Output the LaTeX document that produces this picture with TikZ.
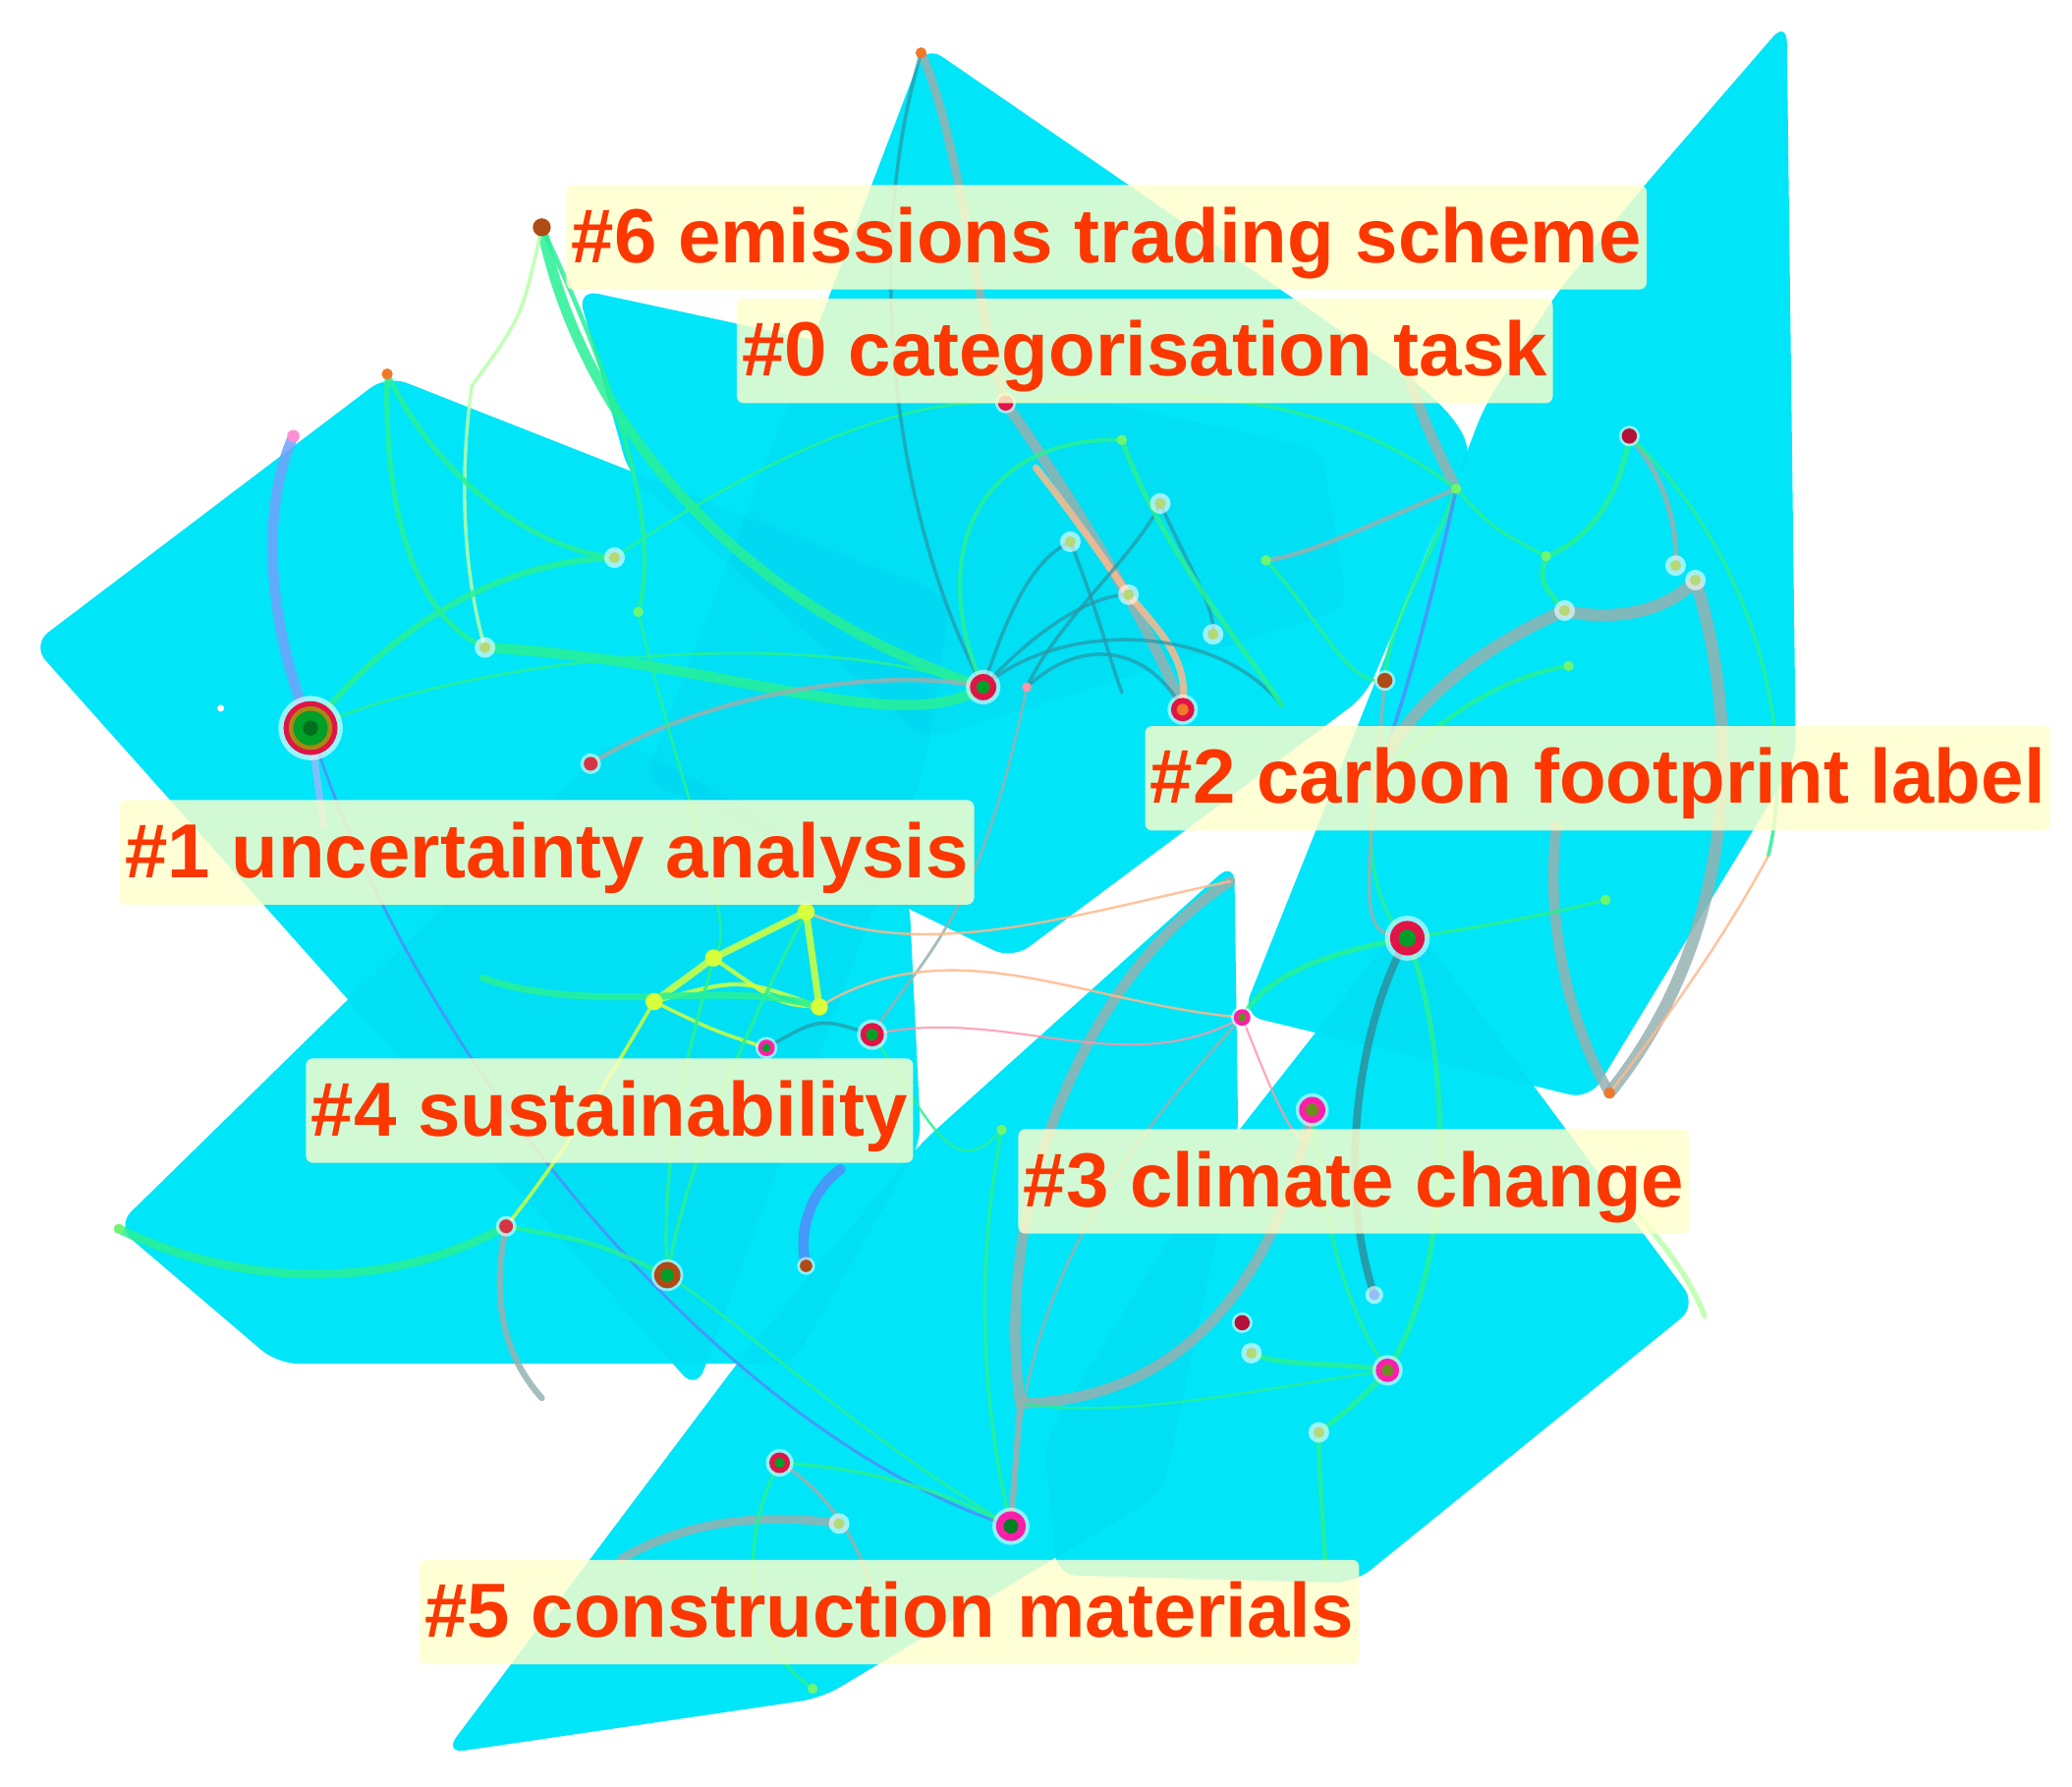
\documentclass[tikz,border=0pt]{standalone}
\usepackage{fontspec}
\setmainfont{Liberation Sans}
\definecolor{cyanA}{RGB}{0,236,250}
\definecolor{cyanD}{RGB}{0,150,215}
\definecolor{lblred}{RGB}{252,55,0}
\definecolor{lblbg}{RGB}{255,255,205}
\definecolor{lgreen}{RGB}{40,240,150}
\definecolor{pgreen}{RGB}{185,255,170}
\definecolor{lgrey}{RGB}{150,178,178}
\definecolor{teal2}{RGB}{40,150,165}
\definecolor{lblue}{RGB}{80,140,250}
\definecolor{yel}{RGB}{215,255,60}
\definecolor{orng}{RGB}{255,185,140}
\definecolor{pinkl}{RGB}{255,150,170}
\definecolor{ringred}{RGB}{225,20,70}
\definecolor{ringmag}{RGB}{255,30,170}
\definecolor{coregreen}{RGB}{0,160,40}
\definecolor{coreolive}{RGB}{110,140,30}
\definecolor{brownn}{RGB}{175,75,20}
\definecolor{orangen}{RGB}{240,120,40}
\tikzset{
  region/.style={fill=cyanA, rounded corners=6pt},
  regshade/.style={fill=cyanD, fill opacity=0.07, rounded corners=6pt},
  lbl/.style={fill=lblbg, fill opacity=0.82, text opacity=1, text=lblred,
    font=\fontsize{22.2}{26}\selectfont\bfseries, rounded corners=2pt,
    inner xsep=1.5pt, inner ysep=0pt, text height=22.4pt, text depth=7.85pt, anchor=west},
  lk/.style={line cap=round, draw opacity=0.85, line width=1pt},
  lkg/.style={lk, draw=lgreen},
  lkp/.style={lk, draw=pgreen},
  lkgr/.style={lk, draw=lgrey},
  lkt/.style={lk, draw=teal2, draw opacity=0.7},
  lkb/.style={lk, draw=lblue},
  lky/.style={lk, draw=yel},
  lko/.style={lk, draw=orng, line width=0.7pt},
  lkpk/.style={lk, draw=pinkl, line width=0.6pt}
}
\newcommand\ringnode[5]{%
  \fill[white,fill opacity=0.55] (#1) circle[radius=#2pt];
  \fill[#3] (#1) circle[radius=#4pt];
  \fill[#5] (#1) circle[radius=#4pt*0.5];}
\begin{document}
\begin{tikzpicture}[x=0.01345cm, y=-0.01345cm]
\useasboundingbox (0,0) rectangle (1568,1352);
\fill[white] (0,0) rectangle (1568,1352);

% ---------- cluster regions ----------
\def\rOne{(293,284) -- (720,452) -- (700,580) -- (527,1052) -- (24,488) -- cycle}
\def\rFour{(88,928) -- (466,558) -- (688,678) -- (697,865) -- (600,1032) -- (210,1032) -- cycle}
\def\rFive{(336,1327) -- (622,1285) -- (880,1130) -- (937,860) -- (934,652) -- (697,865) -- (560,1029) -- cycle}
\def\rThree{(1065,693) -- (1284,988) -- (1025,1198) -- (800,1192) -- (790,1090) -- (930,865) -- cycle}
\def\rTwo{(1243,142) -- (1352,16) -- (1359,575) -- (1203,832) -- (940,768) -- (1103,360) -- (1124,306) -- (1178,222) -- cycle}
\def\rZero{(700,34) -- (1040,268) .. controls (1100,308) and (1115,335) .. (1103,362) -- (1034,526) -- (766,726) -- (488,590) -- cycle}
\def\rSix{(437,219) -- (1000,340) -- (1020,460) -- (700,560) -- (476,359) -- cycle}
\foreach \r in {\rOne,\rFour,\rFive,\rThree,\rTwo,\rZero,\rSix}{\path[region] \r;}
\foreach \r in {\rOne,\rFour,\rFive,\rThree,\rTwo,\rZero,\rSix}{\path[regshade] \r;}

% ---------- node positions ----------
\coordinate (c6) at (410,172);
\coordinate (c6p) at (357,292);
\coordinate (cT) at (697,40);
\coordinate (c1t) at (293,283);
\coordinate (c1u) at (222,330);
\coordinate (cBig) at (235,551);
\coordinate (cA) at (465,422);
\coordinate (cB) at (367,490);
\coordinate (cC) at (483,463);
\coordinate (cD) at (447,578);
\coordinate (cE) at (167,536);
\coordinate (cM) at (744,520);
\coordinate (cN) at (777,520);
\coordinate (cO) at (895,537);
\coordinate (cP) at (761,305);
\coordinate (c0a) at (784,354);
\coordinate (c0b) at (810,410);
\coordinate (c0c) at (854,450);
\coordinate (c0d) at (878,381);
\coordinate (c0e) at (918,480);
\coordinate (c0f) at (849,524);
\coordinate (c0g) at (970,534);
\coordinate (c0h) at (849,333);
\coordinate (c0i) at (958,424);
\coordinate (c0v) at (1062,272);
\coordinate (cQ) at (1102,370);
\coordinate (cR) at (1048,515);
\coordinate (cS) at (1233,330);
\coordinate (cS2) at (1268,428);
\coordinate (cS3) at (1283,439);
\coordinate (cS4) at (1184,462);
\coordinate (cS5) at (1170,421);
\coordinate (cS6) at (1187,504);
\coordinate (cS7) at (1215,681);
\coordinate (cS8) at (1218,827);
\coordinate (c2e) at (1040,592);
\coordinate (c2f) at (1178,625);
\coordinate (c2r) at (1338,648);
\coordinate (c3) at (1065,710);
\coordinate (c3a) at (940,770);
\coordinate (c3b) at (993,840);
\coordinate (c3c) at (940,1001);
\coordinate (c3d) at (1050,1037);
\coordinate (c3e) at (947,1024);
\coordinate (c3f) at (998,1084);
\coordinate (c3g) at (1040,980);
\coordinate (c3x) at (1003,1185);
\coordinate (c3r1) at (1226,905);
\coordinate (c3r2) at (1290,996);
\coordinate (c4a) at (540,725);
\coordinate (c4b) at (610,690);
\coordinate (c4c) at (495,758);
\coordinate (c4d) at (620,762);
\coordinate (c4e) at (580,793);
\coordinate (c4f) at (660,783);
\coordinate (c4g) at (505,965);
\coordinate (c4h) at (383,928);
\coordinate (c4i) at (610,958);
\coordinate (c4j) at (90,930);
\coordinate (c4k) at (410,1058);
\coordinate (c4l) at (636,885);
\coordinate (c4m) at (365,740);
\coordinate (c5a) at (765,1155);
\coordinate (c5b) at (590,1107);
\coordinate (c5c) at (635,1153);
\coordinate (c5d) at (772,1062);
\coordinate (c5e) at (758,855);
\coordinate (c5f) at (615,1278);
\coordinate (c5g) at (470,1180);
\coordinate (c5h) at (665,1232);
\coordinate (c5t) at (931,667);

% ---------- links ----------
% #6 / #1
\draw[lkg, line width=3pt] (c6) .. controls (440,320) and (560,460) .. (cM);
\draw[lkg, line width=1.3pt] (c6) .. controls (470,300) and (500,400) .. (cC);
\draw[lkp] (c6) .. controls (395,240) .. (c6p);
\draw[lkp] (c6p) .. controls (345,380) and (355,450) .. (cB);
\draw[lkg, line width=1.5pt] (c1t) .. controls (290,400) and (320,470) .. (cB);
\draw[lkg, line width=1.5pt] (c1t) .. controls (330,360) and (400,415) .. (cA);
\draw[lkg, line width=1.8pt] (cBig) .. controls (300,470) and (380,425) .. (cA);
\draw[lkb, line width=3pt, draw=lblue!80!white] (cBig) .. controls (205,480) and (195,390) .. (c1u);
\draw[lkg, line width=3pt] (cB) .. controls (550,500) and (680,560) .. (cM);
\draw[lkg, line width=0.8pt] (cBig) .. controls (350,500) and (600,470) .. (cM);
\draw[lkgr, line width=1.3pt] (cD) .. controls (540,520) and (680,505) .. (cM);
\draw[lkb, line width=0.8pt] (cBig) .. controls (320,820) and (560,1090) .. (c5a);
\draw[lkb, line width=2pt, draw=lblue!60!white] (cBig) .. controls (240,590) .. (245,625);
\draw[lkg, line width=0.8pt] (cC) .. controls (520,620) and (560,700) .. (c4a);
\draw[lkg, line width=0.8pt] (cA) .. controls (600,330) and (700,300) .. (cP);
% #0
\draw[lkgr, line width=2.5pt] (cT) .. controls (725,100) and (740,240) .. (cP);
\draw[lkt, line width=1pt] (cT) .. controls (650,200) and (680,400) .. (cM);
\draw[lkgr, line width=3pt] (cP) .. controls (800,360) and (870,470) .. (cO);
\draw[lko, line width=2pt] (c0a) .. controls (820,400) and (840,430) .. (c0c);
\draw[lko, line width=2pt] (c0c) .. controls (880,480) and (900,500) .. (cO);
\draw[lkt] (cM) .. controls (770,440) and (790,420) .. (c0b);
\draw[lkt] (cM) .. controls (790,470) and (830,450) .. (c0c);
\draw[lkt] (cM) .. controls (800,470) and (920,470) .. (c0g);
\draw[lkt] (cN) .. controls (820,480) and (870,490) .. (cO);
\draw[lkt] (cN) .. controls (800,470) and (860,420) .. (c0d);
\draw[lkt] (c0b) .. controls (830,460) and (840,500) .. (c0f);
\draw[lkt] (c0d) .. controls (900,430) and (920,460) .. (c0e);
\draw[lkg, line width=1.5pt] (c0h) .. controls (880,420) and (950,500) .. (c0g);
\draw[lkg, line width=1.2pt] (cM) .. controls (700,420) and (740,330) .. (c0h);
\draw[lkgr, line width=3pt] (c0v) .. controls (1078,320) .. (cQ);
\draw[lkgr, line width=1.3pt] (cQ) .. controls (1030,400) and (990,420) .. (c0i);
\draw[lkg, line width=1.2pt] (cQ) .. controls (1080,430) and (1050,470) .. (cR);
\draw[lkb, line width=1pt] (cQ) .. controls (1080,470) and (1060,540) .. (c2e);
\draw[lkg] (cQ) .. controls (1130,400) .. (cS5);
\draw[lkg] (cP) .. controls (900,290) and (1010,300) .. (cQ);
\draw[lkg] (c0i) .. controls (1000,470) and (1020,520) .. (cR);
% #2
\draw[lkg, line width=1.5pt] (cS) .. controls (1225,380) and (1200,410) .. (cS5);
\draw[lkg, line width=1.5pt] (cS5) .. controls (1165,440) .. (cS4);
\draw[lkgr, line width=1.5pt] (cS) .. controls (1260,360) and (1270,400) .. (cS2);
\draw[lkgr, line width=3.5pt] (cS4) .. controls (1215,470) and (1260,465) .. (cS3);
\draw[lkgr, line width=3.5pt] (cS3) .. controls (1315,540) and (1320,700) .. (cS8);
\draw[lkgr, line width=3.5pt] (cS4) .. controls (1110,495) and (1060,540) .. (c2e);
\draw[lkgr, line width=3pt] (c2f) .. controls (1168,700) and (1190,780) .. (cS8);
\draw[lkg] (cS) .. controls (1330,420) and (1360,560) .. (c2r);
\draw[lkg, line width=1.3pt] (cS6) .. controls (1120,515) and (1075,560) .. (c2e);
\draw[lkg] (c3) .. controls (1130,700) and (1180,690) .. (cS7);
\draw[lko] (cS8) .. controls (1270,760) and (1310,700) .. (c2r);
\draw[lkg] (c2e) .. controls (1030,660) and (1050,700) .. (c3);
% #3
\draw[lkt, line width=2.2pt, draw opacity=0.9] (c3) .. controls (1030,770) and (1010,890) .. (c3g);
\draw[lkg, line width=1.5pt] (c3) .. controls (1100,800) and (1100,960) .. (c3d);
\draw[lkg, line width=1.5pt] (c3) .. controls (1010,720) and (960,735) .. (c3a);
\draw[lkgr] (c3) .. controls (1030,705) .. (cR);
\draw[lkg, line width=1.5pt] (c3d) .. controls (1010,1030) and (970,1035) .. (c3e);
\draw[lkg, line width=1.5pt] (c3d) .. controls (1030,1060) and (1010,1075) .. (c3f);
\draw[lkg, line width=1.3pt] (c3f) .. controls (998,1120) and (1002,1160) .. (c3x);
\draw[lkgr, line width=3pt] (c5d) .. controls (880,1060) and (960,990) .. (c3b);
\draw[lkgr, line width=3pt] (c5d) .. controls (750,900) and (830,730) .. (c5t);
\draw[lkg] (c3b) .. controls (1000,900) and (1010,980) .. (c3d);
\draw[lkg, line width=0.7pt] (c5d) .. controls (850,1075) and (960,1050) .. (c3d);
\draw[lkpk] (c3a) .. controls (960,820) and (990,900) .. (c3b);
\draw[lkp, line width=1.5pt] (c3r1) .. controls (1260,940) and (1280,970) .. (c3r2);
% #5
\draw[lkgr, line width=1.8pt] (c5a) -- (c5d);
\draw[lkg] (c5a) .. controls (740,1050) and (740,950) .. (c5e);
\draw[lkgr, line width=0.8pt] (c5a) .. controls (770,1000) and (820,900) .. (c3a);
\draw[lkgr, line width=2.5pt] (c5g) .. controls (520,1150) and (580,1145) .. (c5c);
\draw[lkgr] (c5b) .. controls (630,1130) and (660,1180) .. (c5h);
\draw[lkg] (c5b) .. controls (560,1160) and (560,1240) .. (c5f);
\draw[lkg] (c5a) .. controls (700,1120) and (640,1110) .. (c5b);
\draw[lkg, line width=0.8pt] (c5a) .. controls (640,1080) and (560,1000) .. (c4g);
% #4
\draw[lky, line width=2pt] (c4c) -- (c4a);
\draw[lky, line width=2pt] (c4a) -- (c4b);
\draw[lky, line width=2pt] (c4b) -- (c4d);
\draw[lky, line width=1.2pt] (c4c) .. controls (560,740) .. (c4d);
\draw[lky, line width=1.2pt] (c4a) .. controls (590,760) .. (c4d);
\draw[lky, line width=1pt] (c4c) .. controls (540,780) .. (c4e);
\draw[lkg, line width=2.5pt] (c4h) .. controls (270,990) and (150,960) .. (c4j);
\draw[lkgr, line width=1.8pt] (c4h) .. controls (370,990) and (385,1030) .. (c4k);
\draw[lky] (c4h) .. controls (430,870) and (470,800) .. (c4c);
\draw[lkg] (c4g) .. controls (520,880) and (560,790) .. (c4b);
\draw[lkg] (c4g) .. controls (500,870) and (520,800) .. (c4a);
\draw[lkg, line width=1.3pt] (c4h) .. controls (450,940) .. (c4g);
\draw[lkb, line width=3pt] (c4i) .. controls (603,930) and (615,900) .. (c4l);
\draw[lkg, line width=2pt] (c4m) .. controls (450,770) and (550,740) .. (c4d);
\draw[lkt] (c4e) .. controls (620,770) .. (c4f);
\draw[lkgr, line width=0.8pt] (c4f) .. controls (700,720) and (740,700) .. (cN);
\draw[lko] (c4d) .. controls (720,700) and (820,760) .. (c3a);
\draw[lko] (c4b) .. controls (700,730) and (820,690) .. (c5t);
\draw[lkpk] (c4f) .. controls (760,760) and (850,820) .. (c3a);
\draw[lkg, line width=0.7pt] (c4f) .. controls (700,840) and (720,900) .. (c5e);

% ---------- nodes ----------
\fill[white,fill opacity=0.6] (cBig) circle[radius=9.3pt];
\fill[ringred] (cBig) circle[radius=7.8pt];
\fill[coreolive!60!orange] (cBig) circle[radius=6.3pt];
\fill[coregreen] (cBig) circle[radius=5pt];
\fill[coregreen!70!black] (cBig) circle[radius=2.2pt];
\ringnode{cM}{5}{ringred}{3.8}{coregreen}
\ringnode{c3}{6.5}{ringred}{5}{coregreen}
\ringnode{c5a}{5.4}{ringmag}{4.3}{coregreen!80!black}
\ringnode{c3b}{4.8}{ringmag}{3.8}{coreolive}
\ringnode{c4f}{4.4}{ringred}{3.4}{coregreen}
\ringnode{c4g}{4.6}{brownn}{3.8}{coregreen}
\ringnode{c3d}{4.4}{ringmag}{3.4}{coreolive}
\ringnode{c5b}{4}{ringred}{3}{coregreen}
\ringnode{cO}{4.4}{ringred}{3.4}{orangen}
\ringnode{c4e}{3.2}{ringmag}{2.4}{coregreen}
\ringnode{c3a}{3.2}{ringmag}{2.4}{coreolive}
\ringnode{cD}{3}{ringred!70!brown}{2}{ringred!70!brown}
\ringnode{c4h}{3}{ringred!70!brown}{2}{ringred!70!brown}
\ringnode{c3c}{3}{ringred!80!black}{2.2}{ringred!80!black}
\ringnode{cS}{3}{ringred!80!black}{2.2}{ringred!80!black}
\ringnode{cR}{3}{brownn}{2.2}{brownn}
\ringnode{cP}{3}{ringred}{2.2}{ringred}
\ringnode{c4i}{2.6}{brownn}{1.8}{brownn}
\fill[brownn] (c6) circle[radius=2.6pt];
\fill[orangen] (cT) circle[radius=1.6pt];
\fill[orangen] (c1t) circle[radius=1.6pt];
\fill[orangen] (cS8) circle[radius=1.6pt];
\fill[ringmag!50!white] (c1u) circle[radius=1.8pt];
\fill[pinkl] (cN) circle[radius=1.4pt];
\fill[white] (cE) circle[radius=1pt];
\foreach \c in {cA,cB,c0b,c0d,c0e,cS2,cS3,cS4,c3e,c3f,c5c,c0c} {
  \fill[white,fill opacity=0.6] (\c) circle[radius=3pt];
  \fill[yel!50!lgrey] (\c) circle[radius=1.6pt];}
\foreach \c in {cC,c0i,cQ,cS5,cS6,cS7,c5e,c4j,c0h,c5f} {
  \fill[lgreen!60!yel] (\c) circle[radius=1.5pt];}
\foreach \c in {c4a,c4b,c4c,c4d} {
  \fill[yel] (\c) circle[radius=2.5pt];}
\fill[white,fill opacity=0.6] (c3g) circle[radius=2.6pt];
\fill[lblue!60!white] (c3g) circle[radius=1.5pt];

% ---------- cluster labels ----------
\node[lbl] (L6) at (428,179.5) {\#6 emissions trading scheme};
\node[lbl] (L0) at (557,265.5) {\#0 categorisation task};
\node[lbl] (L1) at (90,645) {\#1 uncertainty analysis};
\node[lbl] (L2) at (866,589) {\#2 carbon footprint label};
\node[lbl] (L4) at (231,840.5) {\#4 sustainability};
\node[lbl] (L3) at (770,894) {\#3 climate change};
\node[lbl] (L5) at (317,1220) {\#5 construction materials};
\end{tikzpicture}
\end{document}
